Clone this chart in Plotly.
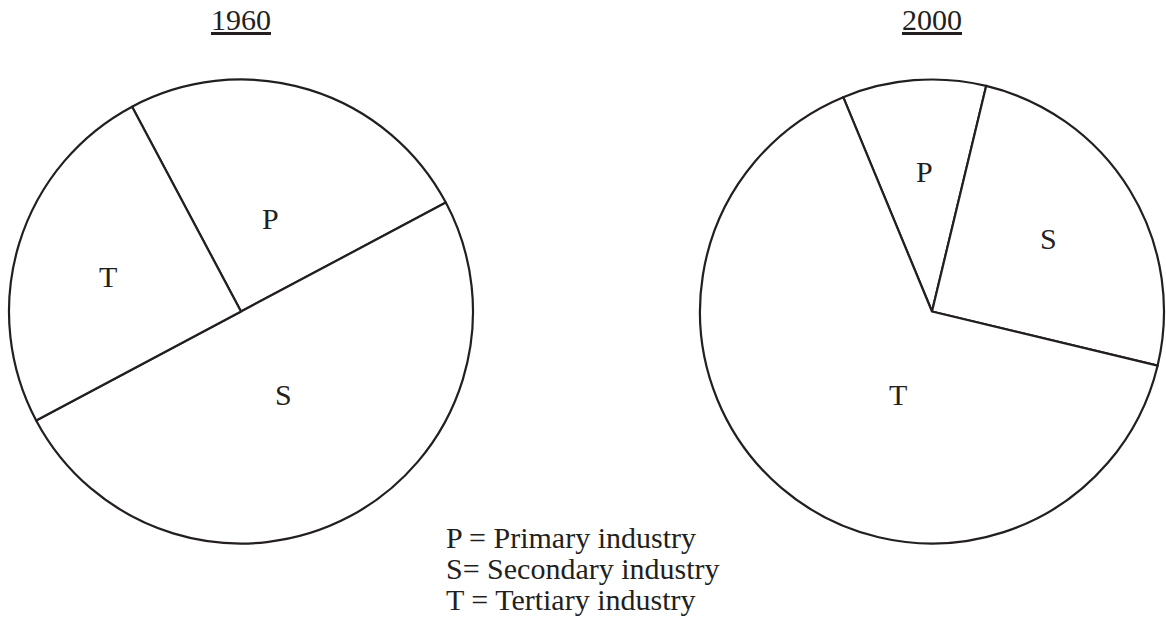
import plotly.graph_objects as go

# ---- data ----
categories = ["P", "S", "T"]
values_1960 = [25, 50, 25]
values_2000 = [10, 25, 65]
years = ["1960", "2000"]
legend_lines = ["P = Primary industry", "S= Secondary industry", "T = Tertiary industry"]

# ---- layout constants (pixels) ----
W, H = 1166, 623
R = 232
centers = [(241, 311.5), (932, 311.5)]
rotations = [-28, -22.5]
label_pos = [
    {"P": (270.5, 218), "S": (283, 395), "T": (107.5, 276.5)},
    {"P": (924, 171), "S": (1048, 239), "T": (898, 395)},
]
title_y = 20
legend_x = 444
legend_y = [537, 568.5, 599.5]

INK = "#231f20"
FONT = "Liberation Serif, Times New Roman, serif"
FS = 30


def px(x):
    return x / W


def py(y):
    return 1 - y / H


fig = go.Figure()
annotations = []
for i, vals in enumerate([values_1960, values_2000]):
    cx, cy = centers[i]
    fig.add_trace(go.Pie(
        labels=categories,
        values=vals,
        sort=False,
        direction="clockwise",
        rotation=rotations[i],
        textinfo="none",
        hoverinfo="label+percent",
        marker=dict(colors=["#ffffff"] * 3, line=dict(color=INK, width=2.2)),
        domain=dict(x=[px(cx - R), px(cx + R)], y=[py(cy + R), py(cy - R)]),
        showlegend=False,
    ))
    annotations.append(dict(
        x=px(cx), y=py(title_y), xref="paper", yref="paper",
        text="<u>" + years[i] + "</u>", showarrow=False,
        xanchor="center", yanchor="middle",
        font=dict(family=FONT, size=FS, color=INK),
    ))
    for cat in categories:
        lx, ly = label_pos[i][cat]
        annotations.append(dict(
            x=px(lx), y=py(ly), xref="paper", yref="paper",
            text=cat, showarrow=False, xanchor="center", yanchor="middle",
            font=dict(family=FONT, size=FS, color=INK),
        ))

for line, ly in zip(legend_lines, legend_y):
    annotations.append(dict(
        x=px(legend_x), y=py(ly), xref="paper", yref="paper",
        text=line, showarrow=False, xanchor="left", yanchor="middle",
        font=dict(family=FONT, size=FS, color=INK),
    ))

fig.update_layout(
    width=W, height=H,
    margin=dict(l=0, r=0, t=0, b=0),
    paper_bgcolor="white", plot_bgcolor="white",
    annotations=annotations,
)

fig.write_html(
    "out.html",
    config={"displayModeBar": False},
    post_script="document.body.style.margin='0';document.body.style.overflow='hidden';",
)
